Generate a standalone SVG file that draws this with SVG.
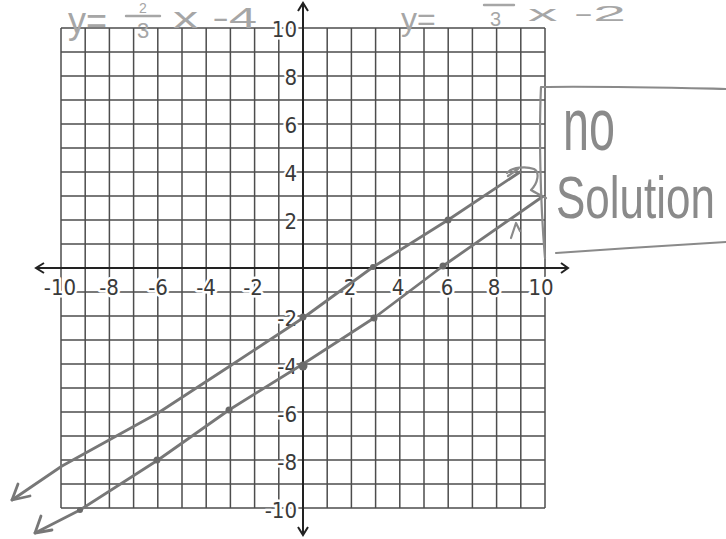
<svg xmlns="http://www.w3.org/2000/svg" width="726" height="539" viewBox="0 0 726 539">
<style>
.grid{fill:none;stroke:#4d4d4d;stroke-width:1.5}
.axis{fill:none;stroke:#222;stroke-width:2}
.lbl{font-family:"Liberation Sans Narrow","DejaVu Sans Condensed","Liberation Sans",sans-serif;font-size:22px;fill:#3a3a3a;stroke:#fff;stroke-width:5px;paint-order:stroke;stroke-linejoin:round}
.xl{text-anchor:middle}
.yl{text-anchor:end}
.line{fill:none;stroke:#777;stroke-width:2.8;stroke-linecap:round;stroke-linejoin:round}
.dot{fill:#6a6a6a}
.hand{font-family:"Liberation Sans","DejaVu Sans",sans-serif;fill:#a6a6a6}
.hand2{font-family:"Liberation Sans","DejaVu Sans",sans-serif;fill:#8a8a8a}
.pen{fill:none;stroke:#8a8a8a;stroke-width:2.2;stroke-linecap:round;stroke-linejoin:round}
.penl{fill:none;stroke:#a6a6a6;stroke-width:2.4;stroke-linecap:round}
</style>
<rect width="726" height="539" fill="#fff"/>
<g id="grid">
<path class="grid" d="M61 28V508M85.2 28V508M109.4 28V508M133.6 28V508M157.8 28V508M182 28V508M206.2 28V508M230.4 28V508M254.6 28V508M278.8 28V508M327.2 28V508M351.4 28V508M375.6 28V508M399.8 28V508M424 28V508M448.2 28V508M472.4 28V508M496.6 28V508M520.8 28V508M545 28V508"/>
<path class="grid" d="M61 28H545M61 52H545M61 76H545M61 100H545M61 124H545M61 148H545M61 172H545M61 196H545M61 220H545M61 244H545M61 292H545M61 316H545M61 340H545M61 364H545M61 388H545M61 412H545M61 436H545M61 460H545M61 484H545M61 508H545"/>
</g>
<g id="axes">
<path class="axis" d="M36 268H568M303 3V535"/>
<path class="axis" d="M44 263L36 268L44 273M561 263L568 268L561 273M298 11L303 3L308 11M298 527L303 535L308 527"/>
</g>
<g id="x-labels">
<text class="lbl xl" x="60" y="295">-10</text>
<text class="lbl xl" x="109" y="295">-8</text>
<text class="lbl xl" x="158" y="295">-6</text>
<text class="lbl xl" x="206" y="295">-4</text>
<text class="lbl xl" x="253" y="295">-2</text>
<text class="lbl xl" x="350" y="295">2</text>
<text class="lbl xl" x="398" y="295">4</text>
<text class="lbl xl" x="447" y="295">6</text>
<text class="lbl xl" x="494" y="295">8</text>
<text class="lbl xl" x="541" y="295">10</text>
</g>
<g id="y-labels">
<text class="lbl yl" x="297" y="37">10</text>
<text class="lbl yl" x="297" y="85">8</text>
<text class="lbl yl" x="297" y="133">6</text>
<text class="lbl yl" x="297" y="181">4</text>
<text class="lbl yl" x="297" y="229">2</text>
<text class="lbl yl" x="297" y="326">-2</text>
<text class="lbl yl" x="297" y="374">-4</text>
<text class="lbl yl" x="297" y="422">-6</text>
<text class="lbl yl" x="297" y="470">-8</text>
<text class="lbl yl" x="297" y="518">-10</text>
</g>
<g id="connectors">
<g id="line-upper">
<path class="line" d="M12 500L62 466L158 413L230 366L303 318L373 267L448 220L520 172"/>
<path class="line" d="M18 484L12 500L30 496"/>
<path class="pen" d="M508 176L518 169M507 173C512 167 526 166 534 169C540 172 538 183 531 190C536 193 542 196 546 198"/>
<circle class="dot" cx="303" cy="317" r="3.5"/>
<circle class="dot" cx="373" cy="267" r="3"/>
<circle class="dot" cx="448" cy="220" r="3.5"/>
</g>
<g id="line-lower">
<path class="line" d="M35 533L80 510L158 460L229 410L303 364L374 318L443 266L542 197"/>
<path class="line" d="M41 516L35 533L52 530"/>
<path class="pen" d="M511 238L516 223L520 231"/>
<circle class="dot" cx="80" cy="510" r="3"/>
<circle class="dot" cx="157" cy="460" r="3.5"/>
<circle class="dot" cx="229" cy="410" r="3.5"/>
<circle class="dot" cx="303" cy="366" r="4.5"/>
<circle class="dot" cx="374" cy="318" r="3.5"/>
<circle class="dot" cx="443" cy="266" r="3.5"/>
</g>
</g>
<g id="eq-left">
<text class="hand" x="68" y="33" font-size="36">y=</text>
<text class="hand" x="139" y="13" font-size="14">2</text>
<path class="penl" d="M126 16H160"/>
<text class="hand" x="137" y="38" font-size="22">3</text>
<text class="hand" x="173" y="28" font-size="30" textLength="84" lengthAdjust="spacingAndGlyphs">x -4</text>
</g>
<g id="eq-right">
<text class="hand" x="401" y="30" font-size="32">y=</text>
<path class="penl" d="M484 5H514"/>
<text class="hand" x="490" y="26" font-size="20">3</text>
<text class="hand" x="528" y="21" font-size="22" textLength="98" lengthAdjust="spacingAndGlyphs">x -2</text>
</g>
<g id="note">
<path class="pen" d="M726 89C680 88 600 86 541 87C539 130 540 200 545 258"/>
<path class="pen" d="M556 253C610 249 680 245 726 242"/>
<text class="hand2" transform="translate(563 150) scale(0.85 1.35)" x="0" y="0" font-size="55">no</text>
<text class="hand2" transform="translate(556 218) scale(1.1 1.5)" x="0" y="0" font-size="40">Solution</text>
</g>
</svg>
